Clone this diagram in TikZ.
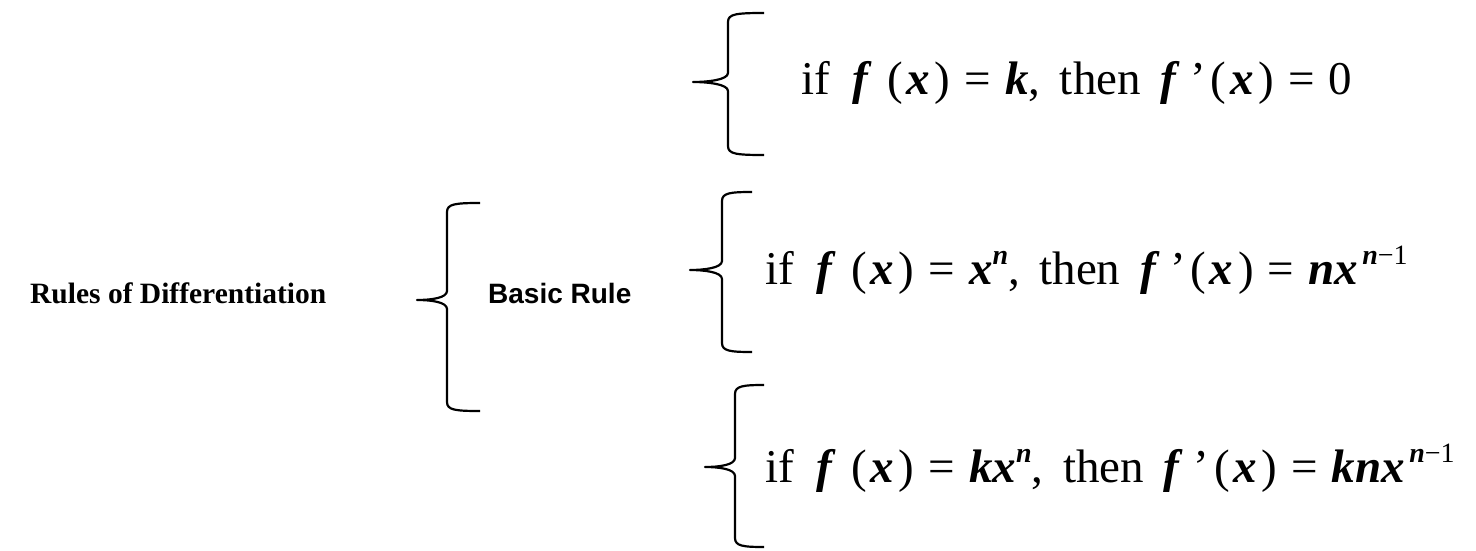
\documentclass[tikz,border=0pt]{standalone}
\usepackage{fontspec}
\setmainfont{Liberation Serif}
\newfontfamily\arialfont{Liberation Sans}
\newcommand{\bv}[1]{\textbf{\textit{#1}}}
\newcommand{\sups}[1]{\raisebox{0.42em}{\fontsize{28}{30}\selectfont #1}}
\newcommand{\eqs}{\hspace{0.3em}=\hspace{0.3em}}
\newcommand{\fx}{\bv{f}\hspace{0.32em}(\hspace{0.08em}\bv{x}\hspace{0.1em})}
\newcommand{\fpx}{\bv{f}\hspace{0.22em}\symbol{"27}\hspace{0.1em}(\hspace{0.08em}\bv{x}\hspace{0.1em})}
\newcommand{\thn}{,\hspace{0.42em}then\hspace{0.42em}}
% #1 tip x, #2 spine x, #3 end x, #4 top y, #5 tip y, #6 bottom y
\newcommand{\mybrace}[6]{%
  \draw[bracestyle] ({#3},{#4}) .. controls ({#2+8},{#4}) and ({#2},{#4+1}) .. ({#2},{#4+9})
    -- ({#2},{#5-9}) .. controls ({#2},{#5-2}) and ({#1+14},{#5}) .. ({#1},{#5})
    .. controls ({#1+14},{#5}) and ({#2},{#5+2}) .. ({#2},{#5+9})
    -- ({#2},{#6-9}) .. controls ({#2},{#6-1}) and ({#2+8},{#6}) .. ({#3},{#6});}
\tikzset{
  bracestyle/.style={line width=2.2pt, line join=round},
  mathtext/.style={anchor=base west, inner sep=0pt, font=\fontsize{47}{50}\selectfont},
  roottext/.style={anchor=base west, inner sep=0pt, font=\fontsize{29.5}{32}\selectfont\bfseries},
  midtext/.style={anchor=base west, inner sep=0pt, font=\fontsize{28}{32}\selectfont\arialfont\bfseries},
}
\begin{document}
\begin{tikzpicture}[x=1pt,y=-1pt]
\useasboundingbox (0,0) rectangle (1476,551);
\node[roottext] (root) at (30,303) {Rules of Differentiation};
\node[midtext] (basic) at (488,303) {Basic Rule};
\node[mathtext] (r1) at (801,95) {if\hspace{0.48em}\fx\eqs\bv{k}\thn\fpx\eqs0};
\node[mathtext] (r2) at (765,284) {if\hspace{0.48em}\fx\eqs\bv{x}\sups{\bv{n}}\thn\fpx\eqs\bv{nx}\sups{\hspace{0.15em}\bv{n}−1}};
\node[mathtext] (r3) at (765,482) {if\hspace{0.48em}\fx\eqs\bv{kx}\sups{\bv{n}}\thn\fpx\eqs\bv{knx}\sups{\hspace{0.15em}\bv{n}−1}};
\mybrace{417}{447}{480}{203}{300}{411}
\mybrace{693}{728}{764}{13}{82}{155}
\mybrace{690}{722}{752}{192}{270}{352}
\mybrace{705}{735}{764}{385}{467}{547}
\end{tikzpicture}
\end{document}
